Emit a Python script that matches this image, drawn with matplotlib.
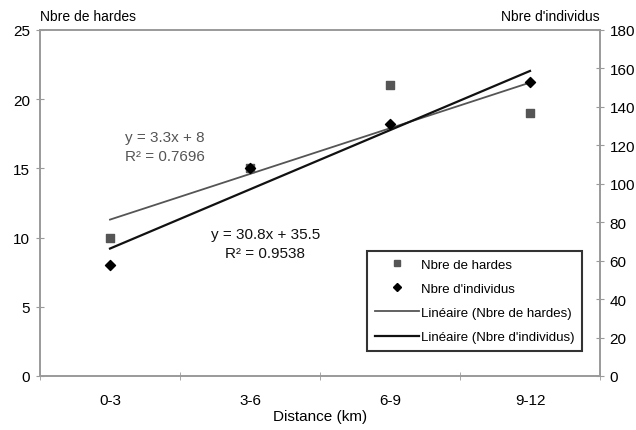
import numpy as np
import matplotlib.pyplot as plt
from matplotlib.lines import Line2D

plt.rcParams['font.family'] = ['Liberation Sans', 'DejaVu Sans']

categories = ["0-3", "3-6", "6-9", "9-12"]
hardes = [10, 15, 21, 19]
individus = [58, 108, 131, 153]

SPINE = "#9a9a9a"
GREY = "#555555"

fig = plt.figure(figsize=(6.36, 4.31), dpi=100)
ax = fig.add_axes([40 / 636, 1 - 377 / 431, 560 / 636, 346 / 431])
ax2 = ax.twinx()

x = np.arange(1, len(categories) + 1)

# scatter points
ax.scatter(x, hardes, marker="s", s=40, color=GREY, zorder=4)
ax2.scatter(x, individus, marker="D", s=26, color="black", zorder=4)

# linear trendlines
p1 = np.polyfit(x, hardes, 1)
p2 = np.polyfit(x, individus, 1)
ax.plot(x, np.polyval(p1, x), color="#555555", lw=1.3, zorder=3)
ax2.plot(x, np.polyval(p2, x), color="#111111", lw=1.6, zorder=3)

ax.set_xlim(0.5, 4.5)
ax.set_ylim(0, 25)
ax2.set_ylim(0, 180)
ax.set_yticks(np.arange(0, 26, 5))
ax2.set_yticks(np.arange(0, 181, 20))
ax.set_xticks(x)
ax.set_xticklabels(categories)
ax.set_xticks(np.arange(0.5, 4.6, 1), minor=True)
ax.tick_params(axis="x", which="major", length=0, labelsize=11, pad=12)
ax.tick_params(axis="x", which="minor", length=6, direction="inout", color=SPINE)
ax.tick_params(axis="y", length=6, direction="inout", color=SPINE, labelsize=11, pad=4)
ax2.tick_params(axis="y", length=6, direction="inout", color=SPINE, labelsize=11, pad=4)

for a in (ax, ax2):
    for s in a.spines.values():
        s.set_color(SPINE)
        s.set_linewidth(1.2)

ax.set_xlabel("Distance (km)", fontsize=11, labelpad=2)

fig.text(40 / 636, 1 - 17 / 431, "Nbre de hardes", fontsize=10, va="center", ha="left")
fig.text(600 / 636, 1 - 17 / 431, "Nbre d'individus", fontsize=10, va="center", ha="right")

ax.text(1.39, 17.25, "y = 3.3x + 8", color=GREY, fontsize=11, ha="center", va="center")
ax.text(1.39, 15.9, "R² = 0.7696", color=GREY, fontsize=11, ha="center", va="center")
ax.text(2.11, 10.25, "y = 30.8x + 35.5", color="#111111", fontsize=11, ha="center", va="center")
ax.text(2.11, 8.9, "R² = 0.9538", color="#111111", fontsize=11, ha="center", va="center")

handles = [
    Line2D([], [], marker="s", color=GREY, ls="none", markersize=4.5),
    Line2D([], [], marker="D", color="black", ls="none", markersize=4),
    Line2D([], [], color="#555555", lw=1.3),
    Line2D([], [], color="#111111", lw=1.6),
]
labels = ["Nbre de hardes", "Nbre d'individus",
          "Linéaire (Nbre de hardes)", "Linéaire (Nbre d'individus)"]
leg = ax2.legend(handles, labels, loc="lower right", bbox_to_anchor=(0.968, 0.072),
                 fontsize=9.5, frameon=True, fancybox=False, handlelength=3.3,
                 handletextpad=0.15, labelspacing=0.9, borderpad=0.6,
                 borderaxespad=0)
leg.get_frame().set_edgecolor("black")
leg.get_frame().set_linewidth(1.5)

fig.savefig("out.png", dpi=100)
